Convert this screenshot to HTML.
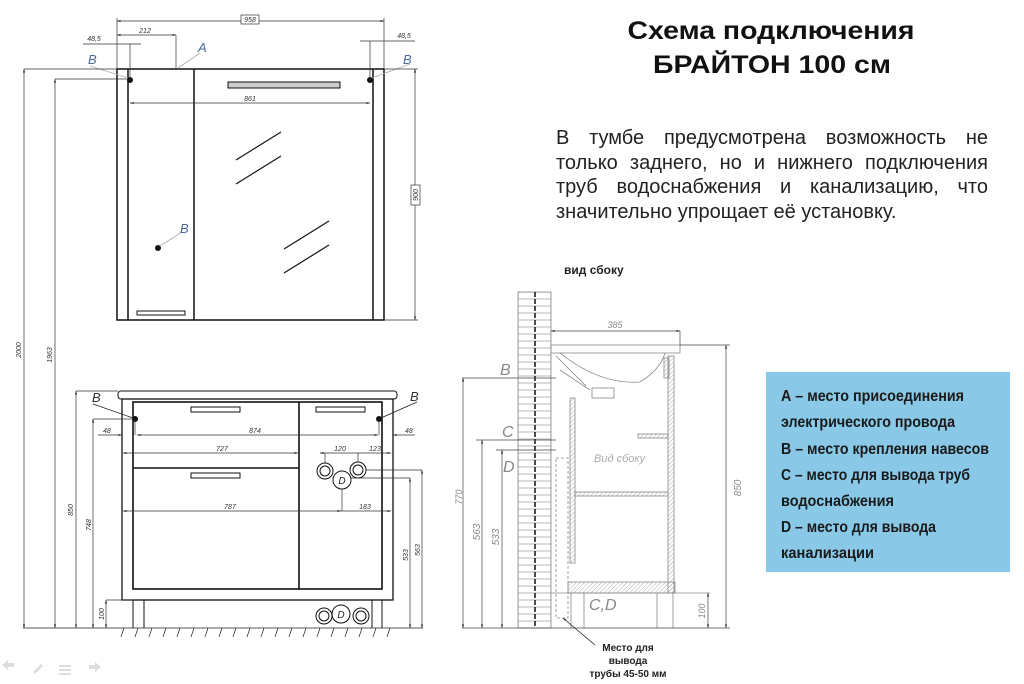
<!DOCTYPE html>
<html><head><meta charset="utf-8"><style>
html,body{margin:0;padding:0;background:#fff;width:1024px;height:684px;overflow:hidden;position:relative}
svg{display:block}
.d{font-family:"Liberation Sans",sans-serif;font-style:italic;font-size:7px;fill:#333}
.L{font-family:"Liberation Sans",sans-serif;font-style:italic;font-size:13px;fill:#4a6a9a}
#p{position:absolute;left:556px;top:126px;width:432px;font-family:"Liberation Sans",sans-serif;font-size:20px;line-height:24.7px;color:#222}
#p div{text-align:justify;text-align-last:justify;white-space:nowrap}
#p div.l{text-align-last:left}
</style></head><body>
<div id="p"><div>В тумбе предусмотрена возможность не</div><div>только заднего, но и нижнего подключения</div><div>труб водоснабжения и канализацию, что</div><div class="l">значительно упрощает её установку.</div></div>
<svg width="1024" height="684" viewBox="0 0 1024 684" xmlns="http://www.w3.org/2000/svg">
<defs>
<marker id="a" viewBox="0 0 10 10" refX="10" refY="5" markerWidth="5" markerHeight="5" orient="auto-start-reverse"><path d="M0,2 L10,5 L0,8z" fill="#222"/></marker>
<pattern id="h" width="3" height="3" patternUnits="userSpaceOnUse" patternTransform="rotate(45)"><line x1="0" y1="0" x2="0" y2="3" stroke="#999" stroke-width="0.8"/></pattern>
<pattern id="br" width="33" height="7" patternUnits="userSpaceOnUse" x="518" y="292"><rect width="33" height="7" fill="#fff" stroke="#888" stroke-width="0.6"/></pattern>
</defs>

<g font-family="Liberation Sans,sans-serif" font-weight="bold" font-size="25" fill="#111" text-anchor="middle">
<text x="771" y="39" textLength="287" lengthAdjust="spacingAndGlyphs">Схема подключения</text>
<text x="772" y="73" textLength="238" lengthAdjust="spacingAndGlyphs">БРАЙТОН 100 см</text>
</g>
<text x="564" y="274" font-family="Liberation Sans,sans-serif" font-weight="bold" font-size="12" fill="#222">вид сбоку</text>

<rect x="766" y="372" width="244" height="200" fill="#89c8e6"/>
<g font-family="Liberation Sans Narrow,Liberation Sans,sans-serif" font-weight="bold" font-size="16" fill="#1a1a1a">
<text x="781" y="401" textLength="183" lengthAdjust="spacingAndGlyphs">А – место присоединения</text>
<text x="781" y="427" textLength="174" lengthAdjust="spacingAndGlyphs">электрического провода</text>
<text x="781" y="454" textLength="208" lengthAdjust="spacingAndGlyphs">В – место крепления навесов</text>
<text x="781" y="480" textLength="189" lengthAdjust="spacingAndGlyphs">С – место для вывода труб</text>
<text x="781" y="506" textLength="113" lengthAdjust="spacingAndGlyphs">водоснабжения</text>
<text x="781" y="532" textLength="155" lengthAdjust="spacingAndGlyphs">D – место для вывода</text>
<text x="781" y="558" textLength="93" lengthAdjust="spacingAndGlyphs">канализации</text>
</g>

<g stroke="#111" fill="none">
<rect x="117" y="69" width="267" height="251" stroke-width="1.5"/>
<line x1="128" y1="69" x2="128" y2="320" stroke-width="1.5"/>
<line x1="194" y1="69" x2="194" y2="320" stroke-width="1.5"/>
<line x1="373" y1="69" x2="373" y2="320" stroke-width="1.5"/>
<rect x="228" y="82" width="112" height="6" fill="#ccc" stroke-width="1"/>
<rect x="137" y="311" width="48" height="4" stroke-width="1"/>
<g stroke-width="1.2">
<line x1="236" y1="160" x2="281" y2="132"/><line x1="236" y1="184" x2="281" y2="156"/>
<line x1="284" y1="249" x2="329" y2="221"/><line x1="284" y1="273" x2="329" y2="245"/>
</g>
</g>
<g fill="#111"><circle cx="130" cy="80" r="3"/><circle cx="370" cy="80" r="3"/><circle cx="158" cy="248" r="3"/></g>
<g stroke="#aaa" stroke-width="0.8"><line x1="90" y1="66" x2="128" y2="78"/><line x1="372" y1="78" x2="410" y2="64"/><line x1="160" y1="246" x2="182" y2="232"/><line x1="178" y1="68" x2="200" y2="53"/></g>
<text class="L" x="88" y="64">B</text><text class="L" x="403" y="64">B</text><text class="L" x="180" y="233">B</text><text class="L" x="198" y="52">A</text>
<g stroke="#333" stroke-width="0.7" fill="none">
<line x1="117" y1="18" x2="117" y2="69"/><line x1="384" y1="18" x2="384" y2="69"/>
<line x1="117" y1="21" x2="384" y2="21" marker-start="url(#a)" marker-end="url(#a)"/>
<line x1="117" y1="35" x2="176" y2="35" marker-start="url(#a)" marker-end="url(#a)"/><line x1="176" y1="35" x2="176" y2="69"/>
<line x1="83" y1="44" x2="141" y2="44"/><line x1="130" y1="44" x2="130" y2="80"/>
<line x1="360" y1="41" x2="415" y2="41"/><line x1="370" y1="41" x2="370" y2="80"/>
<line x1="130" y1="103" x2="370" y2="103" marker-start="url(#a)" marker-end="url(#a)"/>
<line x1="384" y1="69" x2="418" y2="69"/><line x1="384" y1="320" x2="418" y2="320"/>
<line x1="415" y1="69" x2="415" y2="320" marker-start="url(#a)" marker-end="url(#a)"/>
<line x1="24" y1="69" x2="117" y2="69"/><line x1="55" y1="79" x2="128" y2="79"/>
<line x1="24" y1="69" x2="24" y2="628" marker-start="url(#a)" marker-end="url(#a)"/>
<line x1="55" y1="79" x2="55" y2="628" marker-start="url(#a)" marker-end="url(#a)"/>
</g>
<rect x="241" y="15" width="18" height="9" fill="#fff" stroke="#333" stroke-width="0.7"/>
<text class="d" x="250" y="22" text-anchor="middle">958</text>
<text class="d" x="145" y="33" text-anchor="middle">212</text>
<text class="d" x="94" y="41" text-anchor="middle">48,5</text>
<text class="d" x="404" y="38" text-anchor="middle">48,5</text>
<text class="d" x="250" y="101" text-anchor="middle">861</text>
<rect x="411" y="185" width="9" height="20" fill="#fff" stroke="#333" stroke-width="0.7"/>
<text class="d" transform="translate(418,195) rotate(-90)" text-anchor="middle">900</text>
<text class="d" transform="translate(21,350) rotate(-90)" text-anchor="middle">2000</text>
<text class="d" transform="translate(52,355) rotate(-90)" text-anchor="middle">1963</text>

<g stroke="#111" fill="none">
<rect x="118" y="391" width="279" height="8" rx="3" stroke-width="1"/>
<rect x="122" y="399" width="271" height="201" stroke-width="1.3"/>
<rect x="133" y="402" width="249" height="187" stroke-width="1.6"/>
<line x1="299" y1="402" x2="299" y2="589" stroke-width="1.6"/>
<line x1="133" y1="468" x2="299" y2="468" stroke-width="1.6"/>
<rect x="191" y="407" width="49" height="5" stroke-width="1"/>
<rect x="316" y="407" width="49" height="5" stroke-width="1"/>
<rect x="191" y="473" width="49" height="5" stroke-width="1"/>
<line x1="133" y1="600" x2="133" y2="628"/><line x1="144" y1="600" x2="144" y2="628"/>
<line x1="372" y1="600" x2="372" y2="628"/><line x1="382" y1="600" x2="382" y2="628"/>
<g stroke-width="1"><circle cx="325" cy="471" r="8"/><circle cx="325" cy="471" r="5"/><circle cx="358" cy="470" r="8"/><circle cx="358" cy="470" r="5"/><circle cx="342" cy="480" r="9"/>
<circle cx="324" cy="616" r="8"/><circle cx="324" cy="616" r="5"/><circle cx="341" cy="614" r="9"/><circle cx="361" cy="616" r="8"/><circle cx="361" cy="616" r="5"/></g>
</g>
<g font-family="Liberation Sans,sans-serif" font-style="italic" font-size="10" fill="#222" text-anchor="middle"><text x="342" y="484">D</text><text x="341" y="618">D</text></g>
<g fill="#111"><circle cx="135" cy="419" r="3"/><circle cx="379" cy="419" r="3"/></g>
<g stroke="#222" stroke-width="0.8"><line x1="93" y1="404" x2="133" y2="418"/><line x1="381" y1="418" x2="417" y2="402"/></g>
<text class="L" x="92" y="402" style="fill:#333">B</text><text class="L" x="410" y="401" style="fill:#333">B</text>
<g stroke="#222" stroke-width="0.8">
<line x1="23" y1="628" x2="423" y2="628"/>
<g stroke-width="0.7">
<line x1="124" y1="628" x2="121" y2="637"/><line x1="138" y1="628" x2="135" y2="637"/><line x1="152" y1="628" x2="149" y2="637"/><line x1="166" y1="628" x2="163" y2="637"/><line x1="180" y1="628" x2="177" y2="637"/><line x1="194" y1="628" x2="191" y2="637"/><line x1="208" y1="628" x2="205" y2="637"/><line x1="222" y1="628" x2="219" y2="637"/><line x1="236" y1="628" x2="233" y2="637"/><line x1="250" y1="628" x2="247" y2="637"/><line x1="264" y1="628" x2="261" y2="637"/><line x1="278" y1="628" x2="275" y2="637"/><line x1="292" y1="628" x2="289" y2="637"/><line x1="306" y1="628" x2="303" y2="637"/><line x1="320" y1="628" x2="317" y2="637"/><line x1="334" y1="628" x2="331" y2="637"/><line x1="348" y1="628" x2="345" y2="637"/><line x1="362" y1="628" x2="359" y2="637"/><line x1="376" y1="628" x2="373" y2="637"/><line x1="390" y1="628" x2="387" y2="637"/>
</g>
</g>
<g stroke="#333" stroke-width="0.7" fill="none">
<line x1="98" y1="435" x2="122" y2="435" marker-end="url(#a)"/><line x1="137" y1="435" x2="378" y2="435" marker-start="url(#a)" marker-end="url(#a)"/><line x1="393" y1="435" x2="415" y2="435" marker-start="url(#a)"/>
<line x1="135" y1="419" x2="135" y2="435"/><line x1="379" y1="419" x2="379" y2="435"/>
<line x1="123" y1="453" x2="298" y2="453" marker-start="url(#a)" marker-end="url(#a)"/>
<line x1="320" y1="453" x2="391" y2="453" marker-start="url(#a)" marker-end="url(#a)"/>
<line x1="325" y1="453" x2="325" y2="463"/><line x1="358" y1="453" x2="358" y2="462"/>
<line x1="123" y1="511" x2="341" y2="511" marker-start="url(#a)" marker-end="url(#a)"/>
<line x1="341" y1="511" x2="391" y2="511" marker-end="url(#a)"/><line x1="342" y1="489" x2="342" y2="511"/>
<line x1="76" y1="391" x2="118" y2="391"/><line x1="76" y1="391" x2="76" y2="628" marker-start="url(#a)" marker-end="url(#a)"/>
<line x1="93" y1="419" x2="133" y2="419"/><line x1="93" y1="419" x2="93" y2="628" marker-start="url(#a)" marker-end="url(#a)"/>
<line x1="106" y1="600" x2="133" y2="600"/><line x1="106" y1="600" x2="106" y2="628" marker-start="url(#a)" marker-end="url(#a)"/>
<line x1="366" y1="470" x2="422" y2="470"/><line x1="422" y1="470" x2="422" y2="628" marker-start="url(#a)" marker-end="url(#a)"/>
<line x1="351" y1="478" x2="410" y2="478"/><line x1="410" y1="478" x2="410" y2="628" marker-start="url(#a)" marker-end="url(#a)"/>
</g>
<text class="d" x="103" y="433">48</text><text class="d" x="255" y="433" text-anchor="middle">874</text><text class="d" x="405" y="433">48</text>
<text class="d" x="222" y="451" text-anchor="middle">727</text><text class="d" x="340" y="451" text-anchor="middle">120</text><text class="d" x="375" y="451" text-anchor="middle">123</text>
<text class="d" x="230" y="509" text-anchor="middle">787</text><text class="d" x="365" y="509" text-anchor="middle">183</text>
<text class="d" transform="translate(73,510) rotate(-90)" text-anchor="middle">850</text>
<text class="d" transform="translate(91,525) rotate(-90)" text-anchor="middle">748</text>
<text class="d" transform="translate(104,614) rotate(-90)" text-anchor="middle">100</text>
<text class="d" transform="translate(408,555) rotate(-90)" text-anchor="middle">533</text>
<text class="d" transform="translate(420,550) rotate(-90)" text-anchor="middle">563</text>

<g fill="#ddd"><path d="M2,665 l6,-5 v3 h6 v4 h-6 v3z"/><path d="M33,672 l8,-8 l2,2 l-8,8z"/><rect x="59" y="665" width="12" height="2"/><rect x="59" y="669" width="12" height="2"/><rect x="59" y="673" width="12" height="2"/><path d="M101,667 l-6,-5 v3 h-6 v4 h6 v3z"/></g>

<rect x="518" y="292" width="33" height="336" fill="url(#br)" stroke="#777" stroke-width="0.7"/>
<line x1="535" y1="292" x2="535" y2="628" stroke="#111" stroke-width="1.5" stroke-dasharray="5,2"/>
<g stroke="#888" fill="none" stroke-width="0.8">
<rect x="551" y="345" width="129" height="8"/>
<path d="M560,353 Q600,385 640,382 Q660,370 665,353"/>
<rect x="592" y="388" width="22" height="10"/>
<path d="M556,356 l30,30 M560,370 l30,20"/>
<rect x="570" y="398" width="5" height="165" fill="url(#h)"/>
<rect x="668" y="356" width="6" height="237" fill="url(#h)"/>
<rect x="664" y="358" width="5" height="20" fill="url(#h)"/>
<rect x="638" y="434" width="30" height="4" fill="url(#h)"/>
<rect x="575" y="492" width="93" height="4" fill="url(#h)"/>
<rect x="568" y="582" width="107" height="11" fill="url(#h)"/>
<line x1="551" y1="593" x2="710" y2="593"/>
<line x1="571" y1="593" x2="571" y2="628"/><line x1="584" y1="593" x2="584" y2="628"/><line x1="657" y1="593" x2="657" y2="628"/><line x1="673" y1="593" x2="673" y2="628"/>
<rect x="556" y="458" width="12" height="160" stroke-dasharray="3,2"/>
<line x1="462" y1="628" x2="730" y2="628" stroke="#444"/>
<line x1="462" y1="378" x2="556" y2="378" stroke="#444"/><line x1="476" y1="440" x2="556" y2="440" stroke="#444"/><line x1="496" y1="450" x2="556" y2="450" stroke="#444"/>
<line x1="680" y1="345" x2="730" y2="345" stroke="#444"/>
</g>
<g stroke="#444" stroke-width="0.7" fill="none">
<line x1="551" y1="331" x2="680" y2="331" marker-start="url(#a)" marker-end="url(#a)"/><line x1="680" y1="331" x2="680" y2="345"/>
<line x1="726" y1="345" x2="726" y2="628" marker-start="url(#a)" marker-end="url(#a)"/>
<line x1="708" y1="593" x2="708" y2="628" marker-start="url(#a)" marker-end="url(#a)"/>
<line x1="463" y1="378" x2="463" y2="628" marker-start="url(#a)" marker-end="url(#a)"/>
<line x1="482" y1="440" x2="482" y2="628" marker-start="url(#a)" marker-end="url(#a)"/>
<line x1="502" y1="450" x2="502" y2="628" marker-start="url(#a)" marker-end="url(#a)"/>
<line x1="595" y1="645" x2="563" y2="618" stroke="#111" marker-end="url(#a)"/>
</g>
<g font-family="Liberation Sans,sans-serif" font-style="italic" fill="#888">
<text x="500" y="375" font-size="16">B</text><text x="502" y="437" font-size="16">C</text><text x="503" y="472" font-size="16">D</text>
<text x="589" y="610" font-size="16">C,D</text><text x="594" y="462" font-size="11" fill="#aaa">Вид сбоку</text>
<text x="615" y="328" font-size="9" text-anchor="middle">385</text>
<text transform="translate(741,488) rotate(-90)" font-size="10" text-anchor="middle">850</text>
<text transform="translate(705,611) rotate(-90)" font-size="9" text-anchor="middle">100</text>
<text transform="translate(462,497) rotate(-90)" font-size="9" text-anchor="middle">770</text>
<text transform="translate(480,532) rotate(-90)" font-size="10" text-anchor="middle">563</text>
<text transform="translate(499,537) rotate(-90)" font-size="10" text-anchor="middle">533</text>
</g>
<g font-family="Liberation Sans,sans-serif" font-weight="bold" font-size="10" fill="#222" text-anchor="middle">
<text x="628" y="651">Место для</text><text x="628" y="664">вывода</text><text x="628" y="677">трубы 45-50 мм</text>
</g>
</svg>
</body></html>
